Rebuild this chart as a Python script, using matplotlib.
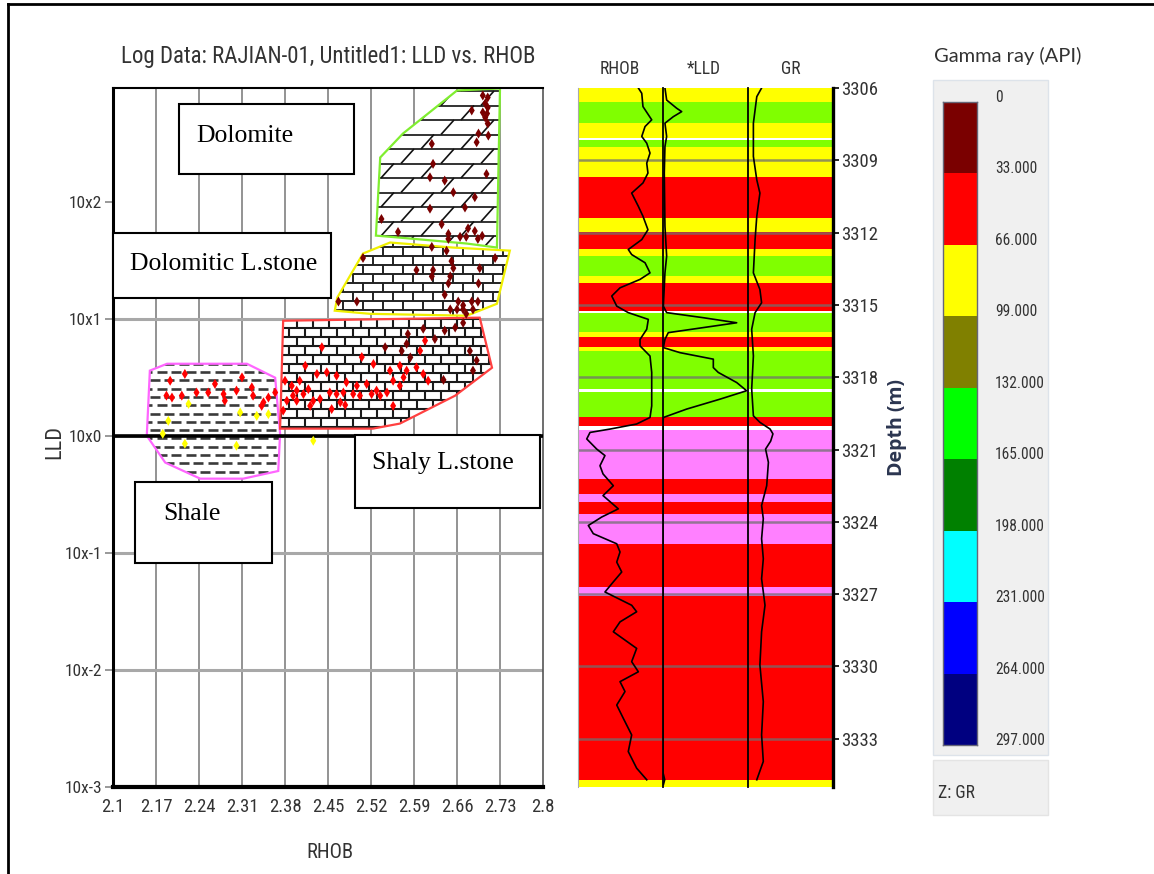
import numpy as np
import matplotlib
matplotlib.use("Agg")
import matplotlib.pyplot as plt
from matplotlib.patches import Polygon, Rectangle
from matplotlib.collections import LineCollection
from matplotlib.colors import ListedColormap, BoundaryNorm
from matplotlib.lines import Line2D
from matplotlib.transforms import ScaledTranslation
from matplotlib import font_manager as fm
from matplotlib.font_manager import FontProperties
from matplotlib.textpath import TextToPath

# ---------------------------------------------------------------- data
# cross-plot points (RHOB g/cc, LLD ohm.m, GR API)
rhob_pts = [2.702, 2.710, 2.706, 2.710, 2.702, 2.709, 2.706, 2.710, 2.684, 2.695, 2.692, 2.711,
            2.619, 2.621, 2.616, 2.708, 2.640, 2.654, 2.689, 2.673, 2.616, 2.537, 2.635, 2.678,
            2.689, 2.701, 2.694, 2.675, 2.646, 2.646, 2.564, 2.665,
            2.619, 2.643, 2.651, 2.507, 2.654, 2.697, 2.722, 2.621, 2.619, 2.594, 2.649, 2.695,
            2.646, 2.640, 2.467, 2.497, 2.662, 2.670, 2.684, 2.694, 2.649, 2.660, 2.670, 2.686,
            2.675, 2.670,
            2.605, 2.624, 2.640, 2.657, 2.681, 2.692, 2.686, 2.580, 2.578, 2.570, 2.543, 2.440,
            2.505, 2.638,
            2.380, 2.391, 2.399, 2.410, 2.418, 2.426, 2.437, 2.453, 2.464, 2.475, 2.491, 2.470,
            2.456, 2.421, 2.399, 2.383, 2.404, 2.432, 2.448, 2.464, 2.480, 2.497, 2.513, 2.529,
            2.535, 2.546, 2.556, 2.567, 2.573, 2.578, 2.594, 2.605, 2.613, 2.567, 2.551, 2.524,
            2.584, 2.600, 2.608, 2.556, 2.521,
            2.393, 2.377, 2.413, 2.478, 2.502,
            2.193, 2.217, 2.236, 2.255, 2.266, 2.280, 2.282, 2.301, 2.310, 2.326, 2.328, 2.345,
            2.353, 2.364, 2.187, 2.196, 2.212, 2.342,
            2.223, 2.190, 2.307, 2.334, 2.353, 2.181, 2.217, 2.301, 2.426]
lld_pts = [805, 774, 689, 635, 577, 565, 522, 464, 600, 381, 321, 366,
           311, 210, 161, 172, 151, 120, 109, 89, 87, 71, 64, 59,
           56, 51, 48, 50, 53, 48, 55, 50,
           41, 38, 31, 33, 27, 27, 33, 26, 23, 26, 23, 20,
           20, 16, 14, 14, 14, 13, 14, 14, 12, 12, 12, 12,
           11, 9.2,
           8.2, 6.7, 7.9, 8.4, 5.3, 4.4, 3.6, 7.4, 6.1, 5.3, 5.7, 5.7,
           4.7, 3.0,
           2.95, 2.67, 2.43, 2.27, 2.50, 1.99, 2.06, 2.34, 2.27, 2.34, 2.27, 1.93,
           1.69, 1.80, 1.99, 1.99, 2.95, 3.37, 3.48, 3.26, 2.86, 2.67, 2.77, 2.43,
           2.20, 2.34, 2.95, 2.67, 3.15, 3.60, 3.84, 3.37, 2.95, 3.96, 3.60, 4.10,
           4.67, 5.32, 6.49, 1.80, 2.27,
           2.20, 1.64, 3.96, 1.83, 2.20,
           2.95, 3.37, 2.34, 2.34, 2.77, 2.27, 1.99, 2.43, 3.15, 2.59, 2.20, 1.93,
           2.12, 2.34, 2.20, 2.12, 2.20, 1.80,
           1.87, 1.34, 1.58, 1.48, 1.53, 1.04, 0.855, 0.822, 0.906]
gr_pts = [12, 14, 15, 13, 16, 18, 17, 15, 20, 22, 19, 21, 24, 25, 23, 20, 26, 24, 22, 25, 27, 28,
          26, 24, 23, 25, 27, 26, 28, 29, 30, 27,
          28, 27, 29, 30, 26, 27, 25, 29, 30, 31, 28, 26, 27, 29, 31, 30, 28, 29, 27, 26, 29, 30,
          28, 27, 29, 31,
          30, 31, 29, 28, 27, 26, 28, 31, 30, 32, 31, 35, 34, 30,
          40, 42, 45, 44, 41, 47, 43, 46, 44, 42, 45, 48, 50, 47, 46, 44, 38, 40, 41, 39, 43, 42,
          40, 41, 44, 43, 39, 38, 36, 35, 34, 37, 39, 38, 34, 33, 32, 36, 34, 46, 42,
          45, 48, 37, 49, 44,
          50, 52, 55, 54, 51, 57, 58, 53, 49, 56, 55, 60, 58, 57, 54, 52, 53, 59,
          72, 78, 70, 75, 74, 82, 88, 80, 76]

# lithology zones on the cross-plot (RHOB, LLD) vertices
shale_rhob = [2.160, 2.188, 2.318, 2.364, 2.372, 2.369, 2.312, 2.242, 2.185, 2.155]
shale_lld = [3.60, 4.12, 4.12, 3.13, 1.04, 0.50, 0.43, 0.43, 0.59, 1.00]
lime_rhob = [2.377, 2.697, 2.717, 2.657, 2.567, 2.523, 2.372]
lime_lld = [9.6, 10.2, 3.81, 2.20, 1.27, 1.15, 1.15]
dollime_rhob = [2.461, 2.465, 2.507, 2.551, 2.653, 2.746, 2.725, 2.676, 2.518]
dollime_lld = [11.7, 15.1, 36.0, 44.7, 40.5, 38.1, 13.4, 10.6, 11.0]
dolo_rhob = [2.528, 2.535, 2.572, 2.660, 2.730, 2.725, 2.676, 2.567]
dolo_lld = [51.2, 238, 381, 889, 925, 40.5, 43.8, 49.2]

# log track curves
rhob_depth = [3306.00, 3306.22, 3306.77, 3307.32, 3307.60, 3308.01, 3308.29, 3308.70, 3309.12,
              3309.53, 3309.94, 3310.36, 3310.63, 3310.91, 3311.32, 3311.88, 3312.29, 3312.70,
              3312.91, 3313.25, 3313.67, 3313.94, 3314.29, 3314.63, 3315.05, 3315.32, 3315.60,
              3316.01, 3316.43, 3316.70, 3317.12, 3317.80, 3319.19, 3319.67, 3319.94, 3320.15,
              3320.29, 3320.56, 3320.98, 3321.25, 3321.67, 3322.01, 3322.50, 3322.91, 3323.46,
              3323.80, 3324.15, 3324.49, 3324.91, 3325.25, 3325.67, 3326.08, 3326.49, 3326.91,
              3327.46, 3327.73, 3328.15, 3328.56, 3329.25, 3329.80, 3330.22, 3330.63, 3331.04,
              3331.60, 3332.15, 3332.84, 3333.53, 3334.22, 3334.70]
rhob_log = [2.597, 2.625, 2.635, 2.707, 2.652, 2.625, 2.666, 2.693, 2.666,
            2.676, 2.635, 2.542, 2.569, 2.597, 2.635, 2.676, 2.625, 2.514,
            2.542, 2.652, 2.693, 2.611, 2.446, 2.378, 2.419, 2.514, 2.679,
            2.666, 2.611, 2.611, 2.693, 2.707, 2.707, 2.693, 2.583, 2.364,
            2.199, 2.172, 2.254, 2.322, 2.281, 2.306, 2.391, 2.306, 2.432,
            2.295, 2.185, 2.226, 2.419, 2.446, 2.419, 2.460, 2.391, 2.322,
            2.542, 2.583, 2.446, 2.391, 2.583, 2.542, 2.597, 2.446, 2.487,
            2.419, 2.473, 2.542, 2.514, 2.583, 2.666]
lld_depth = [3306.00, 3306.50, 3306.84, 3306.98, 3307.19, 3307.46, 3308.01, 3308.43, 3309.53,
             3311.74, 3312.98, 3313.67, 3315.05, 3315.32, 3315.53, 3315.74, 3315.90, 3316.15,
             3316.43, 3316.77, 3316.98, 3317.25, 3317.60, 3317.80, 3318.22, 3318.56, 3318.91,
             3319.32, 3319.67, 3320.00, 3334.40, 3334.70, 3334.90]
lld_log = [23, 43, 161, 220, 121, 23, 43, 23, 15,
           23, 43, 23, 4, 43, 474, 867, 553, 62,
           23, 4, 200, 592, 592, 650, 867, 984, 670,
           279, 4, 0, 0, 20, 5]
gr_depth = [3306.00, 3306.36, 3307.46, 3308.84, 3309.81, 3310.36, 3311.32, 3312.29, 3313.67,
            3314.36, 3314.91, 3315.32, 3316.01, 3317.12, 3318.49, 3319.60, 3319.87, 3320.15,
            3320.35, 3320.65, 3320.98, 3321.53, 3322.50, 3323.32, 3323.87, 3324.70, 3325.53,
            3326.36, 3327.46, 3328.56, 3329.94, 3331.46, 3332.84, 3333.94, 3334.70]
gr_log = [48, 31, 19, 19, 31, 42, 31, 25, 19,
          42, 48, 25, 13, 19, 13, 19, 42, 78,
          88, 80, 62, 72, 66, 48, 54, 48, 54,
          48, 60, 48, 42, 54, 48, 54, 31]

# colour-fill bands of the log track (top, bottom, class)
band_top = [3306.00, 3306.58, 3307.46, 3308.07, 3308.15, 3308.44, 3309.68, 3311.38, 3311.98,
            3312.70, 3312.99, 3313.82, 3314.07, 3315.27, 3315.35, 3316.14, 3316.34, 3316.76,
            3316.92, 3318.49, 3318.62, 3319.65, 3320.03, 3320.19, 3322.22, 3322.84, 3323.17,
            3323.67, 3324.91, 3326.69, 3327.06, 3334.71]
band_bot = band_top[1:] + [3335.00]
band_class = ['Y', 'G', 'Y', 'W', 'G', 'Y', 'R', 'Y', 'R',
              'Y', 'G', 'Y', 'R', 'W', 'G', 'Y', 'R', 'Y',
              'G', 'W', 'G', 'R', 'W', 'M', 'R', 'M', 'R',
              'M', 'R', 'M', 'R', 'Y']

depth_ticks = [3306, 3309, 3312, 3315, 3318, 3321, 3324, 3327, 3330, 3333]
rhob_ticks = [2.1, 2.17, 2.24, 2.31, 2.38, 2.45, 2.52, 2.59, 2.66, 2.73, 2.8]
lld_ticks = [1e-3, 1e-2, 1e-1, 1e0, 1e1, 1e2]
lld_tick_labels = ['10x-3', '10x-2', '10x-1', '10x0', '10x1', '10x2']
gr_levels = [0, 33, 66, 99, 132, 165, 198, 231, 264, 297]
gr_level_labels = ['0', '33.000', '66.000', '99.000', '132.000', '165.000', '198.000',
                   '231.000', '264.000', '297.000']

# ---------------------------------------------------------------- fonts
def _find_narrow():
    prefs = ['Liberation Sans Narrow', 'Arial Narrow', 'Roboto Condensed', 'Open Sans Condensed',
             'Noto Sans Condensed', 'DejaVu Sans Condensed', 'Noto Sans', 'Roboto', 'Open Sans',
             'DejaVu Sans', 'Lato', 'Inter']
    best = None
    for f in fm.fontManager.ttflist:
        if f.style != 'normal':
            continue
        wt = f.weight
        if isinstance(wt, str):
            wt = fm.weight_dict.get(wt, 400)
        if wt != 400:
            continue
        st = str(f.stretch).lower()
        narrow = ('narrow' in f.name.lower() or 'condensed' in f.name.lower()
                  or st in ('condensed', 'semi-condensed'))
        if not narrow or 'extra' in st or 'ultra' in st or 'extra' in f.fname.lower():
            continue
        rank = prefs.index(f.name) if f.name in prefs else len(prefs)
        if best is None or rank < best[0]:
            best = (rank, f.fname)
    if best is None:
        return fm.findfont(FontProperties(family='Liberation Sans'))
    return best[1]


NARROW_FILE = _find_narrow()
_ttp = TextToPath()
GROW = 1.12   # reference text is drawn slightly taller than its width suggests


def fitted(s, target_px, fname=NARROW_FILE, max_pt=None, grow=GROW):
    fp = FontProperties(fname=fname)
    fp.set_size(10)
    w, _, _ = _ttp.get_text_width_height_descent(s, fp, ismath=False)
    size = 10 * (target_px * grow * 0.72) / w
    if max_pt is not None:
        size = min(size, max_pt)
    fp.set_size(size)
    return fp


SERIF = 'Liberation Serif'
TXT = '#333333'

gr_colors = ['#7a0000', '#ff0000', '#ffff00', '#808000', '#00ff00', '#008000',
             '#00ffff', '#0000ff', '#000080']
gr_cmap = ListedColormap(gr_colors)
gr_norm = BoundaryNorm(gr_levels, gr_cmap.N)
band_colors = {'Y': '#ffff00', 'G': '#80ff00', 'R': '#ff0000', 'M': '#ff80ff', 'W': '#ffffff'}

W, H = 1154, 874
fig = plt.figure(figsize=(W / 100, H / 100), dpi=100)
fig.patch.set_facecolor('white')


def fx(px):
    return px / W


def fy(py):
    return 1 - py / H


# outer frame
fig.add_artist(Line2D([fx(8), 1.0], [fy(4), fy(4)], color='black', lw=2, transform=fig.transFigure))
fig.add_artist(Line2D([fx(8), fx(8)], [fy(4), 0.0], color='black', lw=2, transform=fig.transFigure))

# ---------------------------------------------------------------- cross plot
AX_L, AX_R, AX_T, AX_B = 113, 543, 88, 787
ax = fig.add_axes([fx(AX_L), fy(AX_B), (AX_R - AX_L) / W, (AX_B - AX_T) / H])
ax.set_xlim(2.1, 2.8)
ax.set_yscale('log')
ax.set_ylim(1e-3, 10 ** 2.97)
fp_xt = fitted('2.17', 29, max_pt=16)
fp_yt = fitted('10x2', 33, max_pt=16, grow=1.0)
ax.set_xticks(rhob_ticks)
ax.set_xticklabels([f'{v:g}' for v in rhob_ticks], fontproperties=fp_xt, color=TXT)
ax.set_yticks(lld_ticks)
ax.set_yticklabels(lld_tick_labels, fontproperties=fp_yt, color=TXT)
ax.yaxis.set_minor_locator(matplotlib.ticker.NullLocator())
ax.tick_params(axis='x', length=0, pad=8)
ax.tick_params(axis='y', length=6, width=1.2, color='#888888', pad=2)
for x in rhob_ticks[1:-1]:
    ax.axvline(x, color='#8a8a8a', lw=1.3, zorder=0.5)
for y in lld_ticks[1:-1]:
    ax.axhline(y, color='#a8a8a8', lw=2.2, zorder=0.5)
ax.axhline(1.0, color='black', lw=2.6, zorder=3)
ax.spines['left'].set_linewidth(2.2)
ax.spines['bottom'].set_linewidth(3)
ax.spines['top'].set_linewidth(1.5)
ax.spines['right'].set_linewidth(1.2)
ax.spines['right'].set_color('#555555')

AXW, AXH = AX_R - AX_L, AX_B - AX_T


def pattern(kind):
    segs = []
    if kind in ('lime', 'dollime'):
        dy, bw = (9.0, 16.0) if kind == 'lime' else (9.0, 20.0)
        for r in range(int(AXH / dy) + 2):
            y = r * dy
            segs.append([(0, y), (AXW, y)])
            x = (r % 2) * bw / 2
            while x < AXW:
                segs.append([(x, y), (x, y + dy)])
                x += bw
    elif kind == 'dolo':
        dy, bw = 14.5, 40.0
        for r in range(int(AXH / dy) + 2):
            y = r * dy
            segs.append([(0, y), (AXW, y)])
            x = (r % 2) * bw / 2 - 12
            while x < AXW:
                segs.append([(x, y), (x + 13, y + dy)])
                x += bw
    elif kind == 'shale':
        dy, dl, gap = 8.3, 10.0, 4.5
        for r in range(int(AXH / dy) + 2):
            y = r * dy
            x = -(r % 2) * 7.0
            while x < AXW:
                segs.append([(x, y), (x + dl, y)])
                x += dl + gap
    return [[(px / AXW, py / AXH) for px, py in s] for s in segs]


zones = [
    (shale_rhob, shale_lld, 'shale', '#ff66ff', '#3a3a3a', 1.9),
    (lime_rhob, lime_lld, 'lime', '#ff4040', '#1a1a1a', 1.5),
    (dollime_rhob, dollime_lld, 'dollime', '#f0f000', '#222222', 1.4),
    (dolo_rhob, dolo_lld, 'dolo', '#80ee30', '#111111', 1.2),
]
for xs, ys, kind, edge, pcol, plw in zones:
    poly = Polygon(np.column_stack([xs, ys]), closed=True, facecolor='white',
                   edgecolor='none', zorder=1.5)
    ax.add_patch(poly)
    lc = LineCollection(pattern(kind), colors=pcol, linewidths=plw,
                        transform=ax.transAxes, zorder=1.6)
    ax.add_collection(lc)
    lc.set_clip_path(poly)
    ax.add_patch(Polygon(np.column_stack([xs, ys]), closed=True, facecolor='none',
                         edgecolor=edge, lw=1.6, zorder=1.7))

ax.scatter(rhob_pts, lld_pts, c=gr_pts, cmap=gr_cmap, norm=gr_norm, marker='d', s=26,
           edgecolors='none', zorder=4)

# labelled boxes (pixel geometry)
boxes = [('Dolomite', 179, 104, 354, 174, 196, 136),
         ('Dolomitic L.stone', 113, 233, 331, 298, 130, 264),
         ('Shaly L.stone', 355, 435, 540, 508, 372, 463),
         ('Shale', 135, 482, 272, 563, 163, 514)]
for label, x0, y0, x1, y1, tx, ty in boxes:
    ax.add_patch(Rectangle(((x0 - AX_L) / AXW, (AX_B - y1) / AXH), (x1 - x0) / AXW,
                           (y1 - y0) / AXH, transform=ax.transAxes, facecolor='white',
                           edgecolor='black', lw=1.5, zorder=5, clip_on=False))
    ax.text((tx - AX_L) / AXW, (AX_B - ty) / AXH, label, transform=ax.transAxes,
            fontfamily=SERIF, fontsize=18.5, ha='left', va='center', color='black', zorder=6)

fig.text(fx(328), fy(57), 'Log Data: RAJIAN-01, Untitled1: LLD vs. RHOB',
         fontproperties=fitted('Log Data: RAJIAN-01, Untitled1: LLD vs. RHOB', 414, grow=1.0),
         color=TXT, ha='center', va='center')
fig.text(fx(330), fy(852), 'RHOB', fontproperties=fitted('RHOB', 42, max_pt=16), color=TXT,
         ha='center', va='center')
fig.text(fx(55), fy(442), 'LLD', fontproperties=fitted('LLD', 32, max_pt=16), color=TXT,
         rotation=90, ha='center', va='center')

# ---------------------------------------------------------------- log track
TR_T, TR_B = 88, 787
tx0 = [578, 663, 748]
tw = 85
tracks = []
for i, x0 in enumerate(tx0):
    a = fig.add_axes([fx(x0), fy(TR_B), tw / W, (TR_B - TR_T) / H])
    a.set_ylim(3335, 3306)
    for t, b, c in zip(band_top, band_bot, band_class):
        a.axhspan(t, b, color=band_colors[c], lw=0, zorder=0)
    for d in depth_ticks[1:]:
        a.axhline(d, color='#707070', alpha=0.75, lw=1.8, zorder=1)
    a.set_xticks([])
    for s in ['top', 'bottom', 'right']:
        a.spines[s].set_visible(False)
    a.spines['left'].set_color('black' if i > 0 else '#aaaaaa')
    a.spines['left'].set_linewidth(1.3 if i > 0 else 0.8)
    a.spines['left'].set_zorder(3)
    a.set_yticks([])
    tracks.append(a)

tracks[0].set_xlim(2.1, 2.8)
tracks[0].plot(rhob_log, rhob_depth, color='black', lw=1.2, zorder=2)
tracks[1].set_xlim(0, 1000)
tracks[1].plot(lld_log, lld_depth, color='black', lw=1.2, zorder=2)
tracks[2].set_xlim(0, 300)
tracks[2].plot(gr_log, gr_depth, color='black', lw=1.2, zorder=2)

ta = tracks[2]
ta.spines['right'].set_visible(True)
ta.spines['right'].set_linewidth(2.4)
ta.spines['right'].set_color('black')
ta.yaxis.tick_right()
ta.set_yticks(depth_ticks)
ta.set_yticklabels([str(d) for d in depth_ticks],
                   fontproperties=fitted('3306', 33, max_pt=15), color=TXT)
ta.tick_params(axis='y', direction='out', length=4, width=1.2, pad=2)
fp_head = fitted('RHOB', 36, max_pt=13)
for label, xc in zip(['RHOB', '*LLD', 'GR'], [620, 704, 791]):
    fig.text(fx(xc), fy(69), label, fontproperties=fp_head, color=TXT,
             ha='center', va='center')
fig.text(fx(897), fy(428), 'Depth (m)', fontfamily='Open Sans', fontweight='bold',
         fontsize=14, color='#2b3550', rotation=90, ha='center', va='center')

# ---------------------------------------------------------------- colour legend
fig.add_artist(Rectangle((fx(933), fy(755)), 115 / W, 675 / H, transform=fig.transFigure,
                         facecolor='#f0f0f0', edgecolor='#dde3ea', lw=1, zorder=-1))
fig.add_artist(Rectangle((fx(933), fy(815)), 115 / W, 55 / H, transform=fig.transFigure,
                         facecolor='#f0f0f0', edgecolor='#e4e4e4', lw=1, zorder=-1))
cax = fig.add_axes([fx(943), fy(745), 34 / W, (745 - 101.7) / H])
cax.set_facecolor('none')
cax.pcolormesh([0, 1], gr_levels, np.array(gr_levels[:-1]).reshape(-1, 1) + 1,
               cmap=gr_cmap, norm=gr_norm)
cax.set_ylim(297, 0)
cax.set_xticks([])
cax.yaxis.tick_right()
cax.set_yticks(gr_levels)
cax.set_yticklabels(gr_level_labels, fontproperties=fitted('33.000', 38, max_pt=13), color=TXT)
cax.tick_params(axis='y', length=0, pad=13)
for lab in cax.get_yticklabels():
    lab.set_transform(lab.get_transform() + ScaledTranslation(0, 6 / 100, fig.dpi_scale_trans))
for s in cax.spines.values():
    s.set_color('#666677')
    s.set_linewidth(1)
fig.text(fx(1008), fy(56), 'Gamma ray (API)', fontfamily='Lato', fontsize=14.5, color=TXT,
         ha='center', va='center')
fig.text(fx(938), fy(793), 'Z: GR', fontproperties=fitted('Z: GR', 33, max_pt=13), color=TXT,
         ha='left', va='center')

fig.savefig('out.png', dpi=100, facecolor='white')
